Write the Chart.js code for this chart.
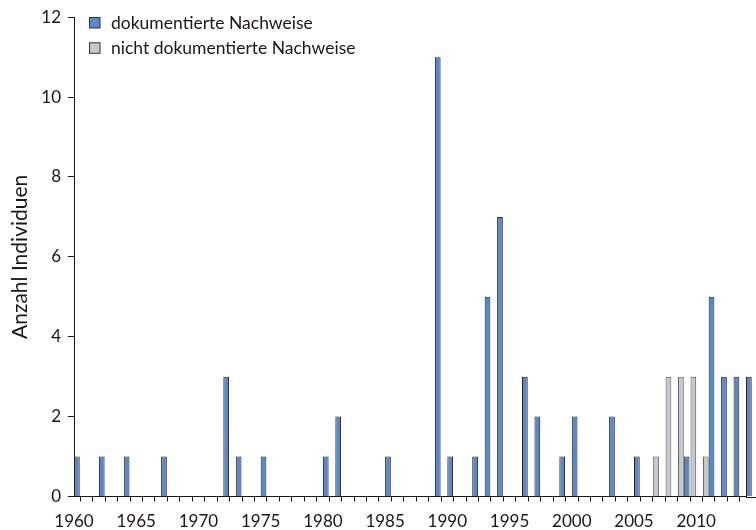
<!DOCTYPE html>
<html lang="de">
<head>
  <meta charset="UTF-8">
  <title>Anzahl Individuen</title>
  <script src="https://cdn.jsdelivr.net/npm/chart.js"></script>
  <style>
    html, body {
      margin: 0;
      padding: 0;
      background: #fff;
      overflow: hidden;
    }
    .chart-box {
      width: 756px;
      height: 530px;
    }
  </style>
</head>
<body>
  <div class="chart-box">
    <canvas id="nachweise"></canvas>
  </div>

  <script>
    // Jahre (Kategorien)
    const years = [
      '1960', '1961', '1962', '1963', '1964', '1965', '1966', '1967', '1968', '1969',
      '1970', '1971', '1972', '1973', '1974', '1975', '1976', '1977', '1978', '1979',
      '1980', '1981', '1982', '1983', '1984', '1985', '1986', '1987', '1988', '1989',
      '1990', '1991', '1992', '1993', '1994', '1995', '1996', '1997', '1998', '1999',
      '2000', '2001', '2002', '2003', '2004', '2005', '2006', '2007', '2008', '2009',
      '2010', '2011', '2012', '2013', '2014'
    ];

    // dokumentierte Nachweise
    const documented = [
      1, 0, 1, 0, 1, 0, 0, 1, 0, 0,
      0, 0, 3, 1, 0, 1, 0, 0, 0, 0,
      1, 2, 0, 0, 0, 1, 0, 0, 0, 11,
      1, 0, 1, 5, 7, 0, 3, 2, 0, 1,
      2, 0, 0, 2, 0, 1, 0, 0, 0, 1,
      0, 5, 3, 3, 3
    ];

    // nicht dokumentierte Nachweise
    const undocumented = [
      0, 0, 0, 0, 0, 0, 0, 0, 0, 0,
      0, 0, 0, 0, 0, 0, 0, 0, 0, 0,
      0, 0, 0, 0, 0, 0, 0, 0, 0, 0,
      0, 0, 0, 0, 0, 0, 0, 0, 0, 0,
      0, 0, 0, 0, 0, 0, 0, 1, 3, 3,
      3, 1, 0, 0, 0
    ];

    const yTicks = [0, 2, 4, 6, 8, 10, 12];

    const BLUE = '#5b87c6';
    const GREY = '#c4c8d0';
    const INK = '#1a1718';
    const FONT = 'Lato, "Open Sans", sans-serif';

    // leere Jahre ohne Rahmen zeichnen
    const edge = c => (c.raw > 0 ? { top: 1, left: 1, right: 1, bottom: 0 } : 0);

    // Legende oben links + Achsenlinie bis zum Rand
    const cornerLegend = {
      id: 'cornerLegend',
      afterDraw(chart) {
        const ctx = chart.ctx;
        const area = chart.chartArea;
        ctx.save();
        ctx.strokeStyle = INK;
        ctx.lineWidth = 1;
        ctx.beginPath();
        ctx.moveTo(area.right, Math.round(area.bottom) + 0.5);
        ctx.lineTo(chart.width, Math.round(area.bottom) + 0.5);
        ctx.stroke();

        const items = [
          { text: 'dokumentierte Nachweise', color: BLUE },
          { text: 'nicht dokumentierte Nachweise', color: GREY }
        ];
        ctx.font = '17.5px ' + FONT;
        ctx.textBaseline = 'middle';
        items.forEach((it, i) => {
          const y = 23 + i * 25.3;
          ctx.fillStyle = it.color;
          ctx.fillRect(89.5, y - 5.5, 10.5, 10.5);
          ctx.strokeStyle = '#333';
          ctx.strokeRect(89.5, y - 5.5, 10.5, 10.5);
          ctx.fillStyle = INK;
          ctx.fillText(it.text, 111, y);
        });
        ctx.restore();
      }
    };

    const ctx = document.getElementById('nachweise').getContext('2d');

    new Chart(ctx, {
      type: 'bar',
      data: {
        labels: years,
        datasets: [
          {
            label: 'nicht dokumentierte Nachweise',
            data: undocumented,
            backgroundColor: GREY,
            borderColor: '#555',
            borderWidth: edge,
            clip: false
          },
          {
            label: 'dokumentierte Nachweise',
            data: documented,
            backgroundColor: BLUE,
            borderColor: '#222',
            borderWidth: edge,
            clip: false
          }
        ]
      },
      options: {
        responsive: true,
        maintainAspectRatio: false,
        animation: false,
        layout: {
          padding: { top: 15.5, right: 7, bottom: 0, left: 0 }
        },
        categoryPercentage: 0.92,
        barPercentage: 1.0,
        scales: {
          x: {
            offset: false,
            afterFit: function(scale) { scale.height = 33.5; },
            grid: {
              drawOnChartArea: false,
              drawTicks: true,
              tickLength: 5,
              color: INK
            },
            border: { color: INK, width: 1 },
            ticks: {
              autoSkip: false,
              maxRotation: 0,
              padding: 10,
              color: INK,
              font: { family: FONT, size: 17 },
              callback: function(value, index) {
                const y = Number(years[index]);
                return y % 5 === 0 && y < 2014 ? years[index] : '';
              }
            }
          },
          y: {
            min: 0,
            max: 12,
            afterFit: function(scale) { scale.width = 74; },
            afterBuildTicks: function(scale) {
              scale.ticks = yTicks.map(v => ({ value: v }));
            },
            grid: {
              drawOnChartArea: false,
              drawTicks: true,
              tickLength: 6,
              color: INK
            },
            border: { color: INK, width: 1 },
            ticks: {
              padding: 7,
              color: INK,
              font: { family: FONT, size: 17 }
            },
            title: {
              display: true,
              text: 'Anzahl Individuen',
              color: INK,
              font: { family: FONT, size: 21 },
              padding: { top: 8, bottom: 0 }
            }
          }
        },
        plugins: {
          legend: { display: false },
          tooltip: { enabled: false }
        }
      },
      plugins: [cornerLegend]
    });
  </script>
</body>
</html>
